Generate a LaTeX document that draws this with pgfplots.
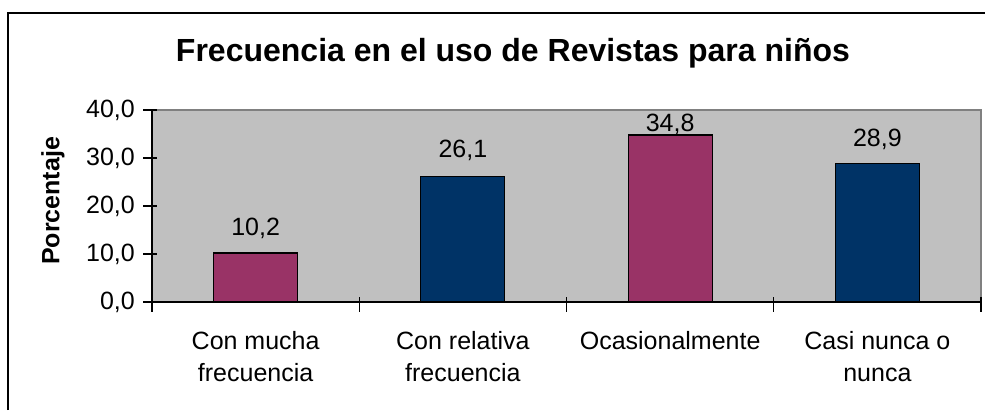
\documentclass[border=0pt]{standalone}
\usepackage{pgfplots}
\pgfplotsset{compat=1.18}
\usepackage{fontspec}
\setmainfont{Liberation Sans}

\definecolor{fondo}{HTML}{C0C0C0}
\definecolor{borde}{HTML}{808080}
\definecolor{granate}{HTML}{993366}
\definecolor{marino}{HTML}{003366}

\newcommand{\txt}{\fontsize{25}{32}\selectfont}

\begin{document}
\begin{tikzpicture}
\path[use as bounding box] (0,0) rectangle (985pt,410pt);
% marco exterior (solo lados izquierdo y superior visibles)
\draw[line width=2pt] (7.5pt,0pt) -- (7.5pt,396.5pt) -- (985pt,396.5pt);

\begin{axis}[
    at={(152pt,108pt)}, anchor=south west,
    scale only axis,
    width=829pt, height=192pt,
    ybar, bar shift=0pt, bar width=84pt,
    xmin=-0.5, xmax=3.5,
    ymin=0, ymax=40,
    ytick={0,10,20,30,40},
    xtick={0,1,2,3},
    xticklabels={Con mucha\\frecuencia, Con relativa\\frecuencia, Ocasionalmente, Casi nunca o\\nunca},
    minor xtick={-0.5,0.5,1.5,2.5,3.5},
    major x tick style={draw=none},
    minor x tick style={yshift=-2pt, line width=1.3pt, black},
    ytick style={xshift=-2pt, line width=1.3pt, black},
    tick align=center,
    major tick length=14pt,
    minor tick length=15pt,
    axis x line*=bottom,
    axis y line*=left,
    axis line style={black, line width=1.2pt},
    axis background/.style={fill=fondo, draw=borde, line width=1.2pt},
    axis on top,
    /pgf/number format/fixed,
    /pgf/number format/fixed zerofill,
    /pgf/number format/precision=1,
    /pgf/number format/use comma,
    /pgf/number format/assume math mode=true,
    tick label style={font=\txt},
    yticklabel style={anchor=east, inner sep=0pt, xshift=-10pt},
    xticklabel style={align=center, anchor=north, inner sep=0pt, yshift=-22pt},
    nodes near coords,
    visualization depends on={\thisrow{off} \as \off},
    every node near coord/.append style={font=\txt, anchor=base, inner sep=0pt, yshift=\off},
    clip=false,
]
\addplot[fill=granate, draw=black, line width=1.2pt] table {
x y off
0 10.2 18
2 34.8 3
};
\addplot[fill=marino, draw=black, line width=1.2pt] table {
x y off
1 26.1 19
3 28.9 17
};
\end{axis}

\node[anchor=base, font=\fontsize{32}{38}\selectfont\bfseries] at (513pt,348pt)
    {Frecuencia en el uso de Revistas para niños};
\node[rotate=90, font=\fontsize{25}{30}\selectfont\bfseries] at (53pt,209pt) {Porcentaje};
\end{tikzpicture}
\end{document}
